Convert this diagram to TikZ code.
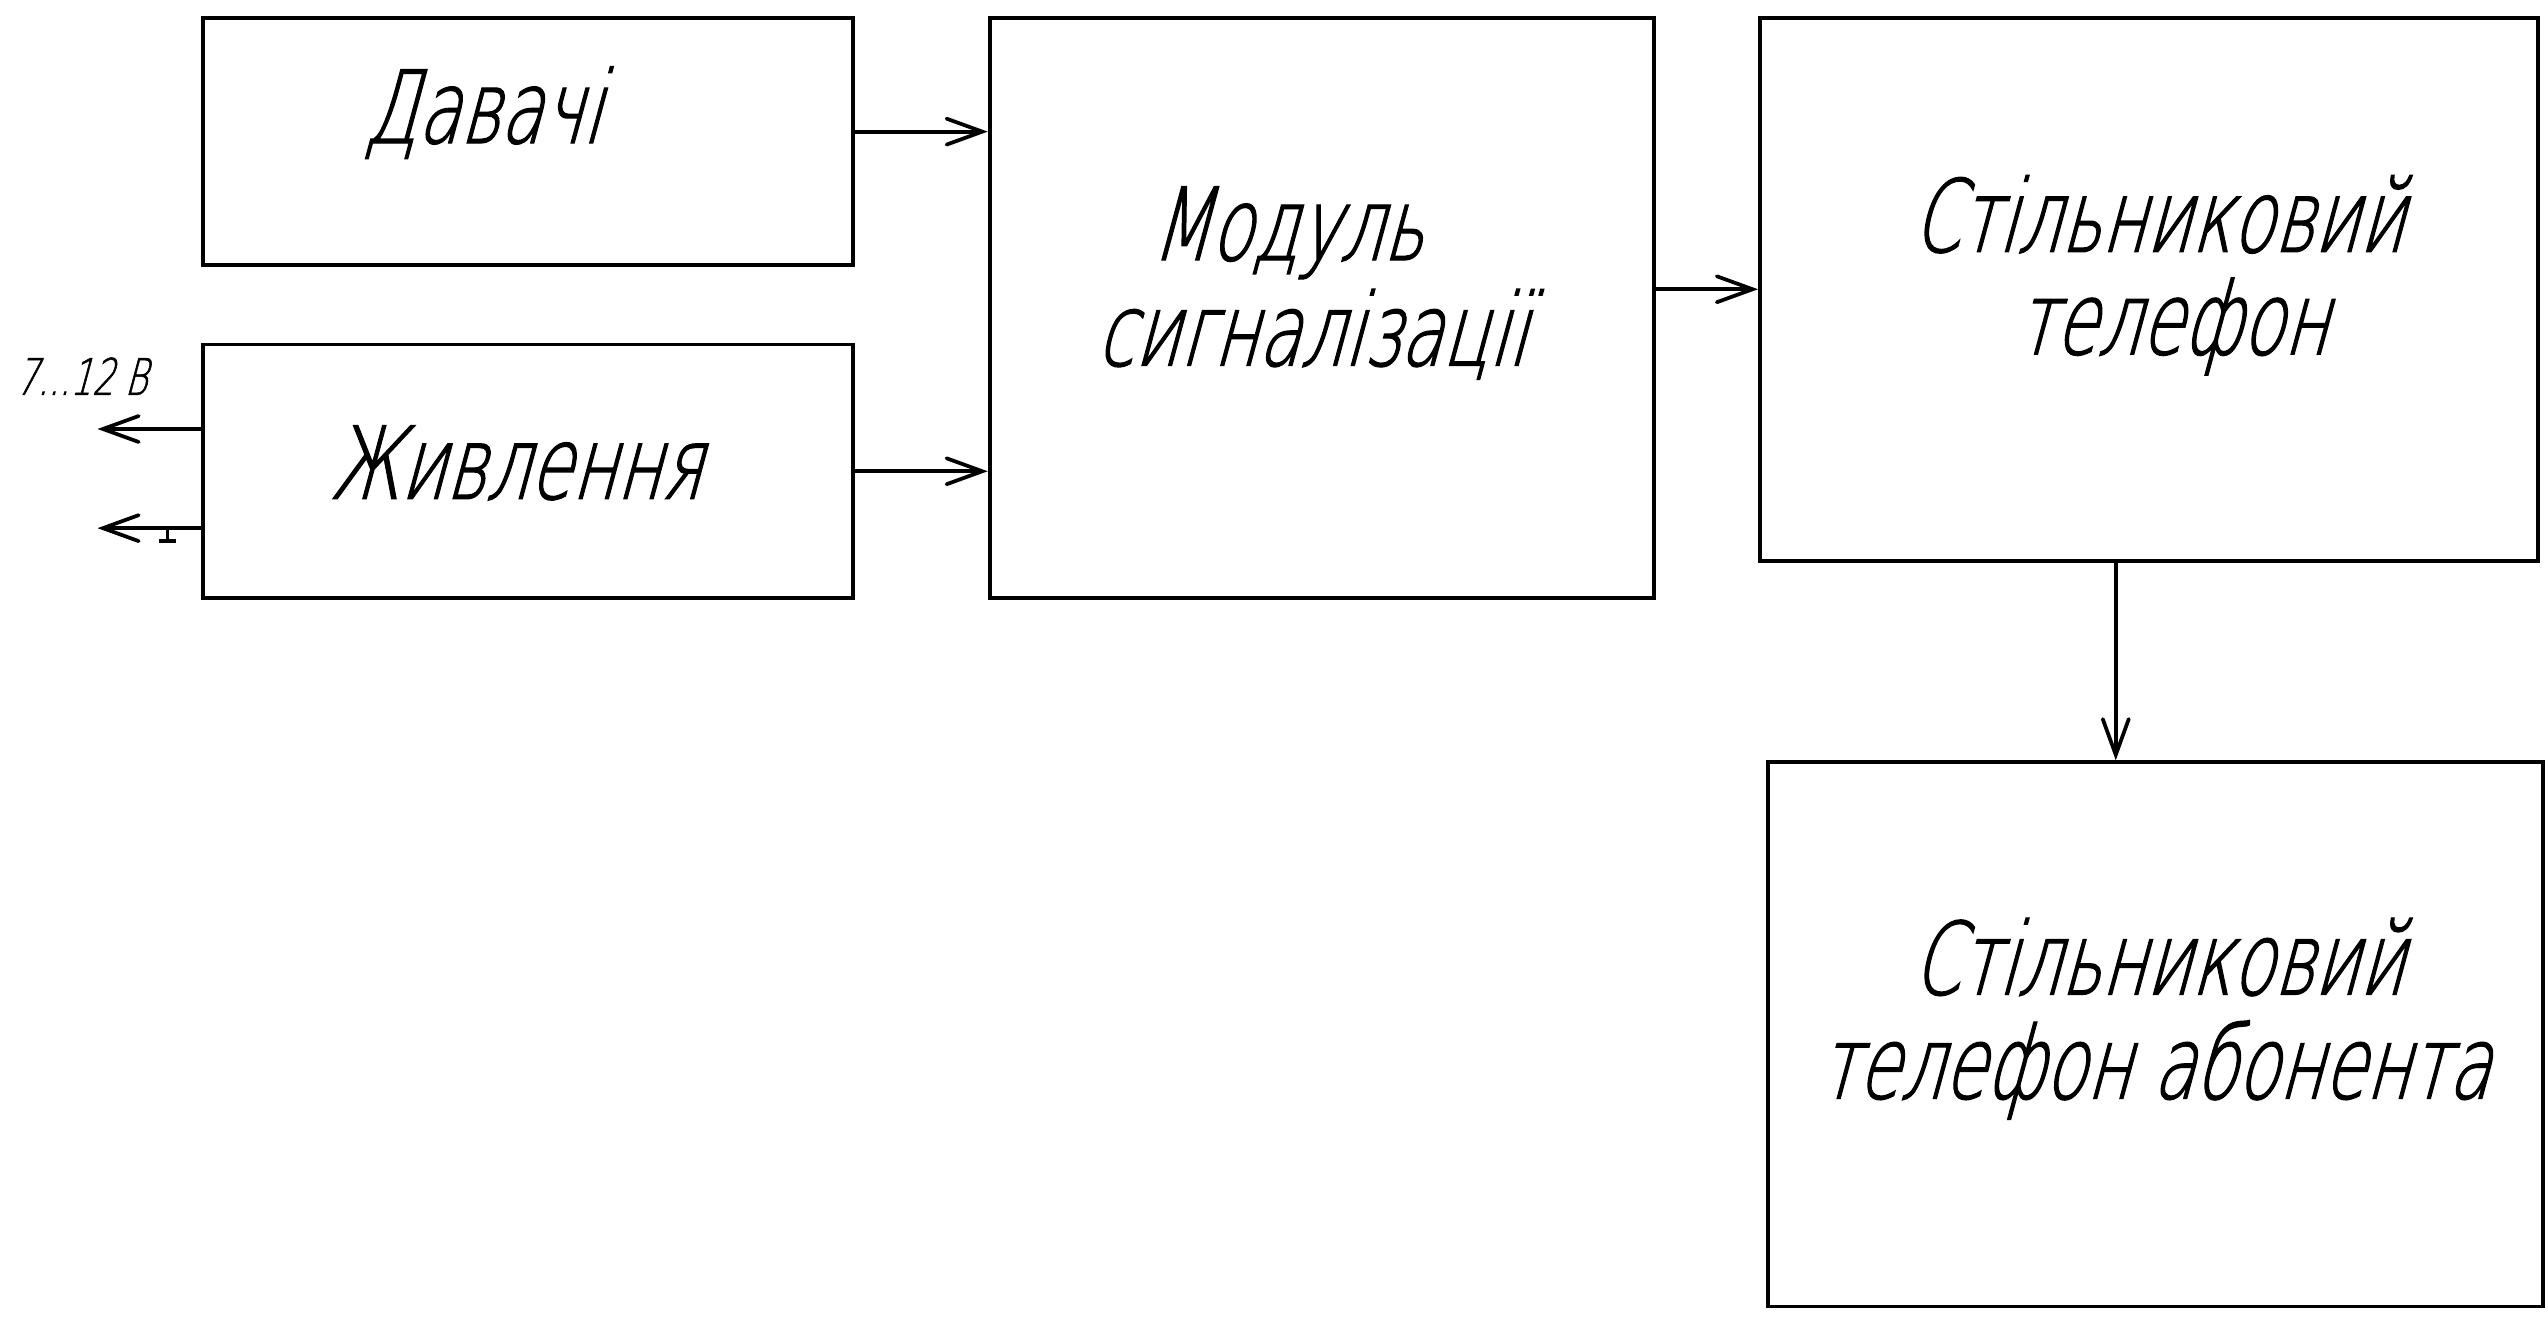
\documentclass[tikz,border=0pt]{standalone}
\usepackage{fontspec}
\setmainfont{DejaVu Sans ExtraLight}[FakeSlant=0.27,FakeStretch=0.68,FakeBold=1.2]
\usetikzlibrary{arrows.meta}
\begin{document}
\begin{tikzpicture}[x=1pt,y=-1pt,
  blk/.style={draw,line width=2.3pt,inner sep=0pt},
  txt/.style={anchor=base,inner sep=0pt,font=\fontsize{62}{62}\selectfont},
  small/.style={anchor=base,inner sep=0pt,font=\fontsize{31}{31}\selectfont},
  arr/.style={line width=2.3pt,line cap=round,-{Straight Barb[length=22pt,width=16pt,line cap=round]}}]
\useasboundingbox (0,0) rectangle (1568,812);
% boxes
\node[blk,minimum width=400pt,minimum height=152pt] (dav) at (325,87) {};
\node[blk,minimum width=400pt,minimum height=156pt] (zhyv) at (325,290) {};
\node[blk,minimum width=409pt,minimum height=357pt] (mod) at (813.5,189.5) {};
\node[blk,minimum width=479pt,minimum height=334pt] (tel) at (1322.5,178) {};
\node[blk,minimum width=477pt,minimum height=335pt] (abon) at (1326.5,636.5) {};
% texts
\node[txt] (t1) at (297,88) {Давачі};
\node[txt] (t2) at (317,307) {Живлення};
\node[txt] (t3) at (792,160) {Модуль};
\node[txt] (t4) at (807,225) {сигналізації};
\node[txt] (t5) at (1328,155) {Стільниковий};
\node[txt] (t6) at (1337,218) {телефон};
\node[txt] (t7) at (1328,612) {Стільниковий};
\node[txt] (t8) at (1326,676) {телефон абонента};
\node[small] (t9) at (50,243) {7...12 В};
% connectors
\coordinate (a1) at ([yshift=6pt]dav.east);
\draw[arr] (a1) -- (a1 -| mod.west);
\draw[arr] (zhyv.east) -- (zhyv.east -| mod.west);
\draw[arr] (tel.west -| mod.east) -- (tel.west);
\coordinate (a4) at ([xshift=-20.5pt]tel.south);
\draw[arr] (a4) -- (a4 |- abon.north);
\coordinate (p1) at ([yshift=26pt]zhyv.west);
\coordinate (p2) at ([yshift=-35pt]zhyv.west);
\coordinate (v1) at (60,264);
\coordinate (v2) at (60,325);
\draw[arr] (p1) -- (v1);
\draw[arr] (p2) -- (v2);
\coordinate (g1) at (103,325);
\coordinate (g2) at (103,333);
\draw[line width=2.3pt] (g1) -- (g2);
\draw[line width=2.3pt] ([xshift=-5pt]g2) -- ([xshift=5pt]g2);
\end{tikzpicture}
\end{document}
